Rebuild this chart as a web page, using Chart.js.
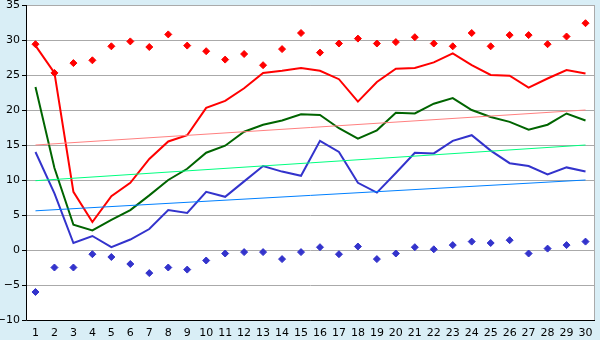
<!DOCTYPE html>
<html>
<head>
<meta charset="utf-8">
<script src="https://cdn.jsdelivr.net/npm/chart.js@4"></script>
<style>
  html, body { margin: 0; padding: 0; background: #d9eef6; }
  #wrap { width: 600px; height: 340px; }
</style>
</head>
<body>
<div id="wrap"><canvas id="chart" width="600" height="340"></canvas></div>
<script>
// days of the month
const days = Array.from({ length: 30 }, (_, i) => String(i + 1));

// daily max / mean / min (lines) and absolute max / min (diamonds)
const maxLine = [29.2, 25.3, 8.3, 4.0, 7.7, 9.6, 13.0, 15.5, 16.4, 20.3, 21.3, 23.1, 25.3, 25.6, 26.0,
  25.6, 24.4, 21.2, 24.0, 25.9, 26.0, 26.8, 28.1, 26.4, 25.0, 24.9, 23.2, 24.5, 25.7, 25.2];
const meanLine = [23.3, 11.7, 3.6, 2.8, 4.3, 5.7, 7.8, 10.0, 11.6, 13.9, 14.9, 16.9, 17.9, 18.5, 19.4,
  19.3, 17.4, 15.9, 17.1, 19.6, 19.5, 20.9, 21.7, 20.0, 19.0, 18.3, 17.2, 17.9, 19.5, 18.5];
const minLine = [14.0, 8.1, 1.0, 2.0, 0.4, 1.5, 3.0, 5.7, 5.3, 8.3, 7.6, 9.8, 12.0, 11.2, 10.6,
  15.6, 14.0, 9.6, 8.2, 11.0, 13.9, 13.8, 15.6, 16.4, 14.2, 12.4, 12.0, 10.8, 11.8, 11.2];
const maxPoints = [29.4, 25.3, 26.7, 27.1, 29.1, 29.8, 29.0, 30.8, 29.2, 28.4, 27.2, 28.0, 26.4, 28.7, 31.0,
  28.2, 29.5, 30.2, 29.5, 29.7, 30.4, 29.5, 29.1, 31.0, 29.1, 30.7, 30.7, 29.4, 30.5, 32.4];
const minPoints = [-6.0, -2.5, -2.5, -0.6, -1.0, -2.0, -3.3, -2.5, -2.8, -1.5, -0.5, -0.3, -0.3, -1.3, -0.3,
  0.4, -0.6, 0.5, -1.3, -0.5, 0.4, 0.1, 0.7, 1.2, 1.0, 1.4, -0.5, 0.2, 0.7, 1.2];

// trend lines: value on day 1 and day 30
const maxTrend = [15.0, 20.0];
const meanTrend = [9.9, 15.0];
const minTrend = [5.6, 10.0];

const yTicks = [-10, -5, 0, 5, 10, 15, 20, 25, 30, 35];

function trend(ends) {
  return [{ x: days[0], y: ends[0] }, { x: days[days.length - 1], y: ends[1] }];
}

const frame = {
  id: 'frame',
  beforeDraw(chart) {
    const { ctx, chartArea: a } = chart;
    ctx.save();
    ctx.fillStyle = '#d9eef6';
    ctx.fillRect(0, 0, chart.width, chart.height);
    ctx.fillStyle = '#ffffff';
    ctx.fillRect(a.left, a.top, a.right - a.left, a.bottom - a.top);
    ctx.restore();
  },
  afterDatasetsDraw(chart) {
    const { ctx, chartArea: a } = chart;
    ctx.save();
    ctx.lineWidth = 1;
    ctx.strokeStyle = '#aaaaaa';
    ctx.beginPath();
    ctx.moveTo(a.left, a.top + 0.5);
    ctx.lineTo(a.right - 0.5, a.top + 0.5);
    ctx.lineTo(a.right - 0.5, a.bottom);
    ctx.stroke();
    ctx.strokeStyle = '#000000';
    ctx.beginPath();
    ctx.moveTo(a.left + 0.5, a.top);
    ctx.lineTo(a.left + 0.5, a.bottom + 0.5);
    ctx.lineTo(a.right, a.bottom + 0.5);
    ctx.stroke();
    ctx.restore();
  }
};

const lineStyle = { borderWidth: 2, pointRadius: 0, fill: false, tension: 0 };
const dotStyle = { showLine: false, pointStyle: 'rectRot', pointRadius: 3.5, borderWidth: 1 };
const trendStyle = { borderWidth: 1, pointRadius: 0, fill: false };
const tickFont = { family: 'DejaVu Sans', size: 11 };

new Chart(document.getElementById('chart'), {
  type: 'line',
  data: {
    labels: days,
    datasets: [
      { data: trend(maxTrend), borderColor: '#ff8080', ...trendStyle },
      { data: trend(meanTrend), borderColor: '#00ff80', ...trendStyle },
      { data: trend(minTrend), borderColor: '#0080ff', ...trendStyle },
      { data: maxLine, borderColor: '#ff0000', ...lineStyle },
      { data: meanLine, borderColor: '#006400', ...lineStyle },
      { data: minLine, borderColor: '#3333cc', ...lineStyle },
      { data: maxPoints, borderColor: '#ff0000', backgroundColor: '#ff0000', ...dotStyle },
      { data: minPoints, borderColor: '#3333cc', backgroundColor: '#3333cc', ...dotStyle }
    ]
  },
  options: {
    responsive: false,
    animation: false,
    events: [],
    layout: { padding: { top: 5, right: 5, left: 0, bottom: 0 } },
    plugins: { legend: { display: false }, tooltip: { enabled: false } },
    scales: {
      x: {
        type: 'category',
        offset: true,
        grid: { display: false, drawTicks: true, tickLength: 5 },
        border: { display: false },
        ticks: { color: '#000', font: tickFont, padding: 2, maxRotation: 0, autoSkip: false },
        afterFit(s) { s.height = 20; s.paddingLeft = 0; s.paddingRight = 0; }
      },
      y: {
        min: -10,
        max: 35,
        afterBuildTicks(s) { s.ticks = yTicks.map(v => ({ value: v })); },
        grid: { color: '#aaaaaa', tickColor: '#000', tickLength: 4 },
        border: { display: false },
        ticks: {
          color: '#000', font: tickFont, padding: 2,
          callback: v => String(v).replace('-', '\u2212')
        },
        afterFit(s) { s.width = 26; s.paddingTop = 0; s.paddingBottom = 0; }
      }
    }
  },
  plugins: [frame]
});
</script>
</body>
</html>
